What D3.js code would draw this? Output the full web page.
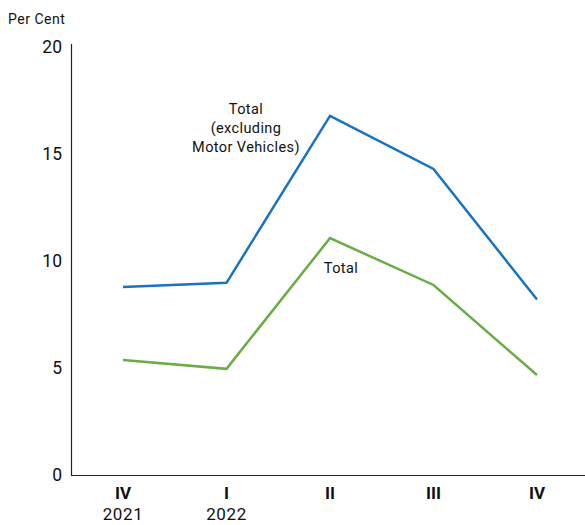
<!DOCTYPE html>
<html>
<head>
<meta charset="utf-8">
<script src="https://cdn.jsdelivr.net/npm/d3@7"></script>
<style>
  html, body { margin: 0; padding: 0; background: #fff; }
  svg { display: block; font-family: Roboto, "Noto Sans", sans-serif; }
</style>
</head>
<body>
<svg id="chart" width="585" height="525"></svg>
<script>
// Quarterly growth, year-ended, per cent
const quarters = ["IV", "I", "II", "III", "IV"];
const years = ["2021", "2022", "", "", ""];
const totalExMotor = [8.78, 8.98, 16.78, 14.3, 8.2];
const total = [5.37, 4.96, 11.07, 8.88, 4.67];
const yTicks = [0, 5, 10, 15, 20];

const svg = d3.select("#chart");
const x = d3.scalePoint().domain(d3.range(quarters.length)).range([123, 537]);
const y = d3.scaleLinear().domain([0, 20]).range([475, 47]);

// axes lines
svg.append("line").attr("x1", 71.5).attr("x2", 71.5).attr("y1", 44).attr("y2", 475.5)
  .attr("stroke", "#222").attr("stroke-width", 1.2);
svg.append("line").attr("x1", 71).attr("x2", 585).attr("y1", 475.5).attr("y2", 475.5)
  .attr("stroke", "#222").attr("stroke-width", 1.2);

// y tick labels
const yAxis = d3.axisLeft(y).tickValues(yTicks).tickSize(0).tickPadding(9);
const gy = svg.append("g").attr("transform", "translate(71,0)").call(yAxis);
gy.select(".domain").remove();
gy.selectAll("text").attr("font-size", 17.5).attr("fill", "#111")
  .attr("font-family", "Roboto, 'Noto Sans', sans-serif");

svg.append("text").attr("x", 8).attr("y", 24).attr("font-size", 14).attr("letter-spacing", 0.5)
  .attr("fill", "#111").text("Per Cent");

// x labels
const xLabels = svg.append("g");
quarters.forEach((q, i) => {
  xLabels.append("text").attr("x", x(i)).attr("y", 499).attr("text-anchor", "middle")
    .attr("font-size", 17).attr("font-weight", "bold").attr("fill", "#111").text(q);
  if (years[i]) {
    xLabels.append("text").attr("x", x(i)).attr("y", 520).attr("text-anchor", "middle")
      .attr("font-size", 17).attr("letter-spacing", 0.6).attr("fill", "#111").text(years[i]);
  }
});

// series lines
const line = d3.line().x((d, i) => x(i)).y(d => y(d));
svg.append("path").datum(totalExMotor).attr("d", line).attr("fill", "none")
  .attr("stroke", "#1a73c0").attr("stroke-width", 2.5).attr("stroke-linejoin", "miter");
svg.append("path").datum(total).attr("d", line).attr("fill", "none")
  .attr("stroke", "#6aac45").attr("stroke-width", 2.5).attr("stroke-linejoin", "miter");

// series labels
const lab1 = svg.append("text").attr("text-anchor", "middle").attr("font-size", 14.5)
  .attr("letter-spacing", 0.4).attr("fill", "#111");
["Total", "(excluding", "Motor Vehicles)"].forEach((t, i) => {
  lab1.append("tspan").attr("x", 246).attr("y", 114 + i * 19).text(t);
});
svg.append("text").attr("x", 341).attr("y", 273).attr("text-anchor", "middle")
  .attr("font-size", 14.5).attr("letter-spacing", 0.4).attr("fill", "#111").text("Total");
</script>
</body>
</html>
